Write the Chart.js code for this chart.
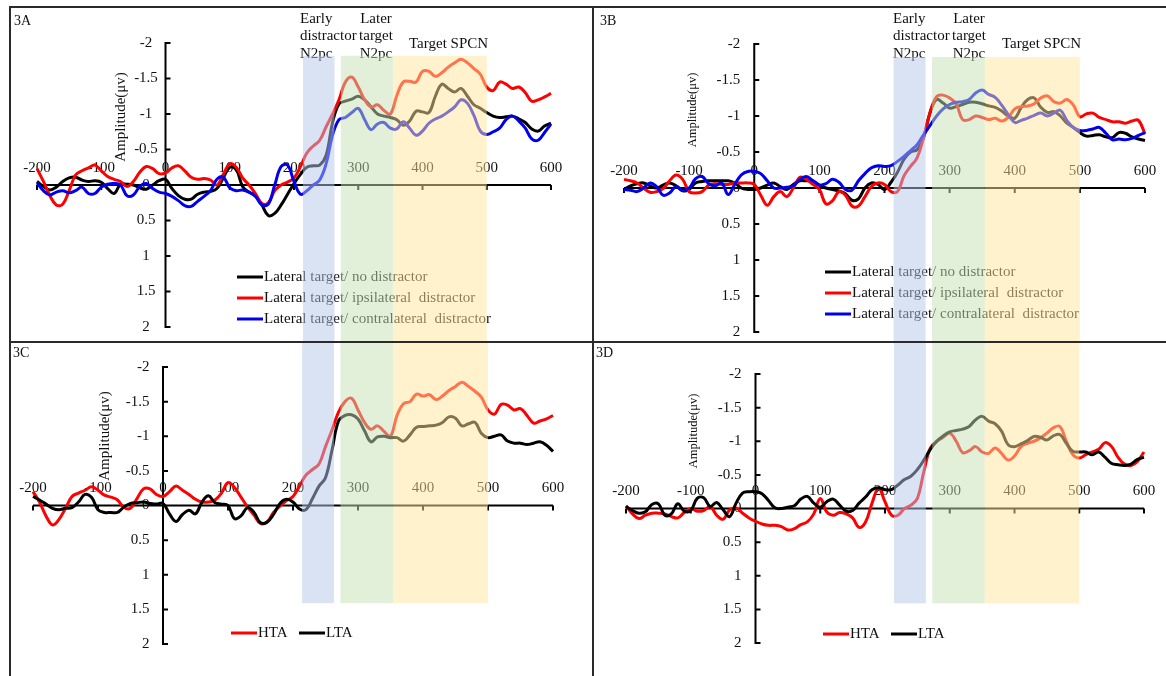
<!DOCTYPE html>
<html><head><meta charset="utf-8">
<script src="https://cdn.jsdelivr.net/npm/chart.js@4.4.1/dist/chart.umd.min.js"></script>
<style>
html,body{margin:0;padding:0;background:#fff;width:1166px;height:676px;overflow:hidden}
body{position:relative}
.p{position:absolute}
.p canvas{display:block}
.b{position:absolute;background:#2a2a2a;z-index:5}
</style></head><body>
<div class="p" style="left:0;top:0"><canvas id="cA" width="594" height="342"></canvas></div>
<div class="p" style="left:594px;top:0"><canvas id="cB" width="572" height="342"></canvas></div>
<div class="p" style="left:0;top:342px"><canvas id="cC" width="594" height="334"></canvas></div>
<div class="p" style="left:594px;top:342px"><canvas id="cD" width="572" height="334"></canvas></div>
<div class="b" style="left:9px;top:6px;width:1157px;height:2px"></div>
<div class="b" style="left:9px;top:6px;width:2px;height:670px"></div>
<div class="b" style="left:592px;top:6px;width:2px;height:670px"></div>
<div class="b" style="left:9px;top:341px;width:1157px;height:2px"></div>
<script>
// ---- data (time in ms, amplitude in microvolts) ----
const times = [
 -200,-190,-180,-170,-160,-150,-140,-130,-120,
 -110,-100,-90,-80,-70,-60,-50,-40,-30,
 -20,-10,0,10,20,30,40,50,60,
 70,80,90,100,110,120,130,140,150,
 160,170,180,190,200,210,220,230,240,
 250,260,270,280,290,300,310,320,330,
 340,350,360,370,380,390,400,410,420,
 430,440,450,460,470,480,490,500,510,
 520,530,540,550,560,570,580,590,600];

const aNoDist = [
 -0.05,0.02,0.07,0.03,-0.05,-0.10,-0.11,-0.07,-0.05,
 -0.06,-0.04,0.05,0.12,-0.01,-0.01,0.00,0.04,0.06,
 0.00,-0.06,-0.08,0.05,0.15,0.20,0.20,0.13,0.10,
 0.09,0.05,-0.10,-0.25,-0.22,0.02,0.10,0.15,0.28,
 0.43,0.40,0.28,0.13,-0.02,-0.15,-0.25,-0.27,-0.28,
 -0.42,-0.88,-1.14,-1.18,-1.21,-1.25,-1.20,-1.10,-1.00,
 -0.97,-0.95,-0.92,-0.84,-0.90,-1.04,-1.03,-1.02,-1.25,
 -1.42,-1.36,-1.31,-1.36,-1.25,-1.13,-1.08,-1.02,-0.97,
 -0.95,-0.96,-0.97,-0.93,-0.88,-0.79,-0.76,-0.83,-0.87];
const aIpsi = [
 -0.23,-0.05,0.15,0.28,0.27,0.08,-0.14,-0.20,-0.24,
 -0.28,-0.20,-0.12,-0.08,-0.05,0.02,-0.05,-0.18,-0.26,
 -0.23,-0.16,-0.17,-0.24,-0.27,-0.20,-0.11,-0.08,-0.09,
 -0.07,0.00,-0.15,-0.30,-0.25,-0.10,0.00,0.12,0.26,
 0.25,0.08,0.00,-0.04,-0.10,-0.26,-0.45,-0.55,-0.63,
 -0.82,-1.00,-1.20,-1.45,-1.52,-1.38,-1.20,-1.10,-1.13,
 -1.05,-1.00,-1.26,-1.45,-1.46,-1.45,-1.60,-1.60,-1.53,
 -1.58,-1.66,-1.72,-1.77,-1.72,-1.64,-1.56,-1.38,-1.33,
 -1.45,-1.42,-1.36,-1.38,-1.30,-1.18,-1.20,-1.24,-1.29];
const aContra = [
 -0.03,0.08,0.14,0.10,0.08,0.11,0.08,0.03,0.12,
 0.12,0.03,-0.01,-0.02,0.00,0.15,0.14,0.02,-0.02,
 0.05,0.10,0.12,0.16,0.22,0.29,0.30,0.23,0.16,
 0.08,-0.08,-0.11,0.04,0.08,0.07,0.10,0.16,0.28,
 0.27,0.00,-0.26,-0.28,-0.05,0.13,0.08,0.00,-0.07,
 -0.30,-0.70,-0.92,-0.95,-1.02,-1.08,-0.92,-0.78,-0.86,
 -0.88,-0.80,-0.79,-0.89,-0.80,-0.70,-0.76,-0.87,-0.93,
 -0.97,-1.03,-1.10,-1.20,-1.15,-0.98,-0.76,-0.71,-0.75,
 -0.80,-0.92,-0.97,-0.90,-0.80,-0.65,-0.63,-0.74,-0.86];

const bNoDist = [
 0.02,-0.03,-0.06,-0.07,-0.03,0.00,-0.04,-0.07,-0.03,
 0.04,0.02,-0.07,-0.09,-0.10,-0.10,-0.10,-0.10,-0.07,
 0.00,0.02,0.02,0.00,-0.04,-0.07,-0.02,0.02,-0.05,
 -0.10,-0.10,-0.10,-0.04,0.00,0.02,0.04,0.08,0.17,
 0.15,0.00,-0.07,-0.05,0.02,-0.08,-0.22,-0.40,-0.50,
 -0.53,-0.70,-1.05,-1.23,-1.18,-1.11,-1.13,-1.16,-1.19,
 -1.19,-1.17,-1.14,-1.12,-1.07,-1.00,-0.97,-1.12,-1.23,
 -1.25,-1.12,-1.05,-1.06,-1.00,-0.90,-0.84,-0.77,-0.72,
 -0.73,-0.74,-0.71,-0.70,-0.77,-0.76,-0.71,-0.68,-0.66];
const bIpsi = [
 -0.12,-0.10,-0.07,0.00,0.06,0.05,0.01,-0.10,-0.18,
 -0.12,0.05,0.07,0.05,-0.04,-0.06,-0.05,-0.05,-0.07,
 -0.07,-0.07,-0.05,0.10,0.24,0.12,0.05,0.12,0.00,
 -0.15,-0.12,-0.05,0.02,0.22,0.18,0.05,0.10,0.25,
 0.25,0.12,-0.02,-0.07,-0.05,0.05,0.05,-0.17,-0.30,
 -0.42,-0.70,-1.05,-1.27,-1.29,-1.25,-1.17,-0.95,-0.95,
 -1.00,-0.98,-0.95,-0.97,-0.93,-0.98,-1.10,-1.13,-1.14,
 -1.17,-1.25,-1.28,-1.20,-1.18,-1.23,-1.15,-0.99,-1.03,
 -1.04,-0.98,-0.95,-0.92,-0.92,-0.90,-0.93,-0.94,-0.75];
const bContra = [
 0.02,0.03,0.05,0.00,-0.07,-0.02,0.10,0.07,-0.02,
 0.03,0.00,-0.13,-0.16,-0.06,-0.03,-0.07,0.09,-0.05,
 -0.18,-0.23,-0.23,-0.20,-0.10,0.00,0.00,-0.01,-0.03,
 -0.12,-0.16,-0.10,-0.04,-0.06,-0.12,-0.08,0.02,0.03,
 -0.10,-0.20,-0.28,-0.31,-0.30,-0.31,-0.37,-0.44,-0.52,
 -0.60,-0.74,-0.87,-1.00,-1.10,-1.16,-1.19,-1.20,-1.23,
 -1.32,-1.36,-1.30,-1.26,-1.15,-1.02,-0.91,-0.94,-0.97,
 -1.01,-1.04,-1.00,-1.04,-1.08,-0.94,-0.84,-0.80,-0.80,
 -0.82,-0.84,-0.76,-0.67,-0.68,-0.67,-0.69,-0.73,-0.77];

const cHTA = [
 -0.20,-0.05,0.15,0.28,0.20,0.04,-0.13,-0.18,-0.22,
 -0.27,-0.22,-0.15,-0.12,-0.08,0.03,0.04,-0.10,-0.24,
 -0.24,-0.16,-0.13,-0.20,-0.28,-0.22,-0.16,-0.09,-0.05,
 -0.05,-0.08,-0.18,-0.33,-0.26,-0.12,0.02,0.14,0.26,
 0.24,0.10,0.01,-0.07,-0.13,-0.28,-0.44,-0.52,-0.60,
 -0.85,-1.09,-1.35,-1.50,-1.55,-1.38,-1.20,-1.10,-1.15,
 -1.07,-1.00,-1.30,-1.47,-1.50,-1.61,-1.58,-1.60,-1.53,
 -1.58,-1.66,-1.72,-1.78,-1.72,-1.65,-1.56,-1.38,-1.32,
 -1.46,-1.45,-1.38,-1.40,-1.30,-1.19,-1.22,-1.25,-1.30];
const cLTA = [
 -0.13,-0.08,-0.02,0.04,0.06,0.04,0.03,-0.05,-0.16,
 -0.12,0.06,0.10,0.10,0.10,0.02,-0.03,-0.04,-0.05,
 -0.03,-0.02,-0.03,0.12,0.23,0.13,0.07,0.12,-0.05,
 -0.14,-0.04,-0.02,0.00,0.19,0.15,0.03,0.10,0.25,
 0.24,0.13,-0.03,-0.09,-0.05,0.05,0.06,-0.10,-0.28,
 -0.40,-0.80,-1.22,-1.30,-1.31,-1.25,-1.08,-0.92,-0.99,
 -1.00,-0.98,-0.98,-0.93,-1.02,-1.13,-1.14,-1.15,-1.16,
 -1.20,-1.28,-1.26,-1.15,-1.18,-1.20,-1.04,-0.98,-1.00,
 -1.02,-0.93,-0.90,-0.90,-0.88,-0.90,-0.92,-0.87,-0.78];

const dHTA = [
 -0.04,0.08,0.15,0.10,0.07,0.07,0.08,0.12,0.14,
 0.06,0.00,0.04,0.03,-0.03,0.10,0.16,0.02,-0.01,
 0.07,0.14,0.19,0.23,0.25,0.25,0.27,0.32,0.30,
 0.24,0.20,0.08,-0.15,0.05,0.10,0.06,0.08,0.14,
 0.28,0.20,-0.08,-0.30,-0.10,0.10,0.10,0.00,-0.05,
 -0.15,-0.55,-0.90,-1.00,-1.06,-1.12,-1.00,-0.83,-0.86,
 -0.92,-0.84,-0.82,-0.90,-0.82,-0.72,-0.78,-0.92,-0.97,
 -1.00,-1.05,-1.12,-1.20,-1.22,-1.00,-0.80,-0.75,-0.80,
 -0.84,-0.88,-0.98,-0.92,-0.76,-0.66,-0.64,-0.70,-0.84];
const dLTA = [
 -0.03,0.03,0.07,0.05,-0.06,-0.07,0.10,0.08,-0.07,
 0.04,0.03,-0.15,-0.16,-0.03,-0.09,0.02,0.12,-0.08,
 -0.23,-0.25,-0.25,-0.22,-0.12,-0.01,0.00,-0.02,-0.04,
 -0.14,-0.18,-0.08,-0.02,-0.10,-0.14,-0.05,0.04,0.03,
 -0.08,-0.17,-0.28,-0.31,-0.28,-0.28,-0.35,-0.43,-0.48,
 -0.58,-0.72,-0.88,-1.00,-1.08,-1.14,-1.16,-1.18,-1.22,
 -1.32,-1.37,-1.30,-1.26,-1.15,-0.95,-0.92,-0.96,-1.01,
 -1.07,-1.06,-1.02,-1.08,-1.10,-0.97,-0.85,-0.84,-0.84,
 -0.80,-0.84,-0.76,-0.67,-0.65,-0.64,-0.66,-0.73,-0.76];

const xTicks = [-200,-100,0,100,200,300,400,500,600];
const yTicks = [-2,-1.5,-1,-0.5,0,0.5,1,1.5,2];
const yTickLabels = ['-2','-1.5','-1','-0.5','0','0.5','1','1.5','2'];

// time windows (ms)
const bandStart = [214, 273, 354];
const bandEnd = [263, 354, 500];
const bandColors = ['rgba(180,199,231,0.5)','rgba(197,224,180,0.5)','rgba(255,230,153,0.5)'];
const bandTopValue = -1.82;   // top of windows in upper panels (µV)
const bandBottomValue = 1.41; // bottom of windows in lower panels (µV)

const legendTop = ['Lateral target/ no distractor','Lateral target/ ipsilateral  distractor','Lateral target/ contralateral  distractor'];
const legendBottom = ['HTA','LTA'];
const colorsTop = ['#000000','#ff0000','#0000ee'];
const colorsBottom = ['#ff0000','#000000'];
const ordersTop = [3,2,1];
const ordersBottom = [2,1];

const FONT = '"Liberation Serif","Times New Roman",serif';

const panels = [
 {id:'cA', title:'3A', titlePos:[14,21], series:[aNoDist,aIpsi,aContra], labels:legendTop, colors:colorsTop, orders:ordersTop,
  pad:{left:37,right:43,top:43,bottom:15}, row:'top',
  legend:[[237,277],[237,298],[237,319]], amp:{x:121,y:117,size:15}, yAlign:'center', yOff:19.5,
  winText:{left:300, mid:376, spcn:409}},
 {id:'cB', title:'3B', titlePos:[6,21], series:[bNoDist,bIpsi,bContra], labels:legendTop, colors:colorsTop, orders:ordersTop,
  pad:{left:30,right:21,top:44,bottom:10}, row:'top',
  legend:[[231,272],[231,293],[231,314]], amp:{x:99,y:110,size:12.5}, yAlign:'right', yOff:14,
  winText:{left:299, mid:375, spcn:408}},
 {id:'cC', title:'3C', titlePos:[13,11], series:[cHTA,cLTA], labels:legendBottom, colors:colorsBottom, orders:ordersBottom,
  pad:{left:33,right:41,top:25,bottom:32}, row:'bottom',
  legend:[[231,291],[299,291]], amp:{x:105,y:94,size:15}, yAlign:'right', yOff:13.5},
 {id:'cD', title:'3D', titlePos:[2,11], series:[dHTA,dLTA], labels:legendBottom, colors:colorsBottom, orders:ordersBottom,
  pad:{left:32,right:22,top:32,bottom:33}, row:'bottom',
  legend:[[229,292],[297,292]], amp:{x:100,y:89,size:12.5}, yAlign:'right', yOff:14}
];

function drawAxes(chart, p){
  const ctx = chart.ctx, xs = chart.scales.x, ys = chart.scales.y;
  const x0 = xs.getPixelForValue(0), y0 = ys.getPixelForValue(0);
  ctx.save();
  ctx.strokeStyle = '#000'; ctx.lineWidth = 2; ctx.lineCap = 'butt';
  ctx.beginPath();
  ctx.moveTo(xs.left, y0); ctx.lineTo(xs.right, y0);
  xTicks.forEach(v => { const px = xs.getPixelForValue(v); ctx.moveTo(px, y0); ctx.lineTo(px, y0 + 5); });
  ctx.moveTo(x0, ys.top - 1); ctx.lineTo(x0, ys.bottom + 1);
  yTicks.forEach(v => { const py = ys.getPixelForValue(v); ctx.moveTo(x0, py); ctx.lineTo(x0 + 5, py); });
  ctx.stroke();
  ctx.fillStyle = '#111';
  ctx.font = '15px ' + FONT;
  ctx.textBaseline = 'middle';
  ctx.textAlign = 'center';
  xTicks.forEach(v => ctx.fillText(String(v), xs.getPixelForValue(v), y0 - 17));
  ctx.textAlign = p.yAlign;
  yTicks.forEach((v, i) => ctx.fillText(yTickLabels[i], x0 - p.yOff, ys.getPixelForValue(v)));
  ctx.restore();
}

function drawTexts(chart, p){
  const ctx = chart.ctx;
  ctx.save();
  ctx.fillStyle = '#111';
  ctx.textBaseline = 'middle';
  // legend
  ctx.font = '15px ' + FONT;
  chart.data.datasets.forEach((ds, i) => {
    const [lx, ly] = p.legend[i];
    ctx.strokeStyle = ds.borderColor; ctx.lineWidth = 3;
    ctx.beginPath(); ctx.moveTo(lx, ly); ctx.lineTo(lx + 26, ly); ctx.stroke();
    ctx.textAlign = 'left';
    ctx.fillText(ds.label, lx + 27, ly);
  });
  // panel title
  ctx.font = '14px ' + FONT;
  ctx.textAlign = 'left';
  ctx.fillText(p.title, p.titlePos[0], p.titlePos[1]);
  // axis title
  ctx.save();
  ctx.translate(p.amp.x, p.amp.y);
  ctx.rotate(-Math.PI / 2);
  ctx.font = p.amp.size + 'px ' + FONT;
  ctx.textAlign = 'center';
  ctx.fillText('Amplitude(μv)', 0, 0);
  ctx.restore();
  // window labels
  if (p.winText){
    ctx.font = '15px ' + FONT;
    ctx.textAlign = 'left';
    ctx.fillText('Early', p.winText.left, 19);
    ctx.fillText('distractor', p.winText.left, 36);
    ctx.fillText('N2pc', p.winText.left, 54);
    ctx.textAlign = 'center';
    ctx.fillText('Later', p.winText.mid, 19);
    ctx.fillText('target', p.winText.mid, 36);
    ctx.fillText('N2pc', p.winText.mid, 54);
    ctx.textAlign = 'left';
    ctx.fillText('Target SPCN', p.winText.spcn, 44);
  }
  ctx.restore();
}

function drawBands(chart, p){
  const ctx = chart.ctx, xs = chart.scales.x, ys = chart.scales.y;
  const top = p.row === 'top' ? ys.getPixelForValue(bandTopValue) : 0;
  const bottom = p.row === 'top' ? chart.height : ys.getPixelForValue(bandBottomValue);
  ctx.save();
  bandStart.forEach((s, i) => {
    const l = xs.getPixelForValue(s), r = xs.getPixelForValue(bandEnd[i]);
    ctx.fillStyle = bandColors[i];
    ctx.fillRect(l, top, r - l, bottom - top);
  });
  ctx.restore();
}

panels.forEach(p => {
  const deco = {
    id: 'deco' + p.id,
    beforeDatasetsDraw(chart){ drawAxes(chart, p); },
    afterDatasetsDraw(chart){ drawTexts(chart, p); },
    afterDraw(chart){ drawBands(chart, p); }
  };
  new Chart(document.getElementById(p.id), {
    type: 'line',
    data: {
      datasets: p.series.map((s, i) => ({
        label: p.labels[i],
        data: times.map((t, k) => ({x: t, y: s[k]})),
        borderColor: p.colors[i],
        borderWidth: 3,
        pointRadius: 0,
        tension: 0.4,
        fill: false,
        clip: false,
        order: p.orders[i]
      }))
    },
    options: {
      responsive: false,
      animation: false,
      events: [],
      layout: {padding: p.pad},
      plugins: {legend: {display: false}, tooltip: {enabled: false}, title: {display: false}},
      scales: {
        x: {type: 'linear', min: -200, max: 600, display: false},
        y: {type: 'linear', min: -2, max: 2, reverse: true, display: false}
      }
    },
    plugins: [deco]
  });
});
</script>
</body></html>
